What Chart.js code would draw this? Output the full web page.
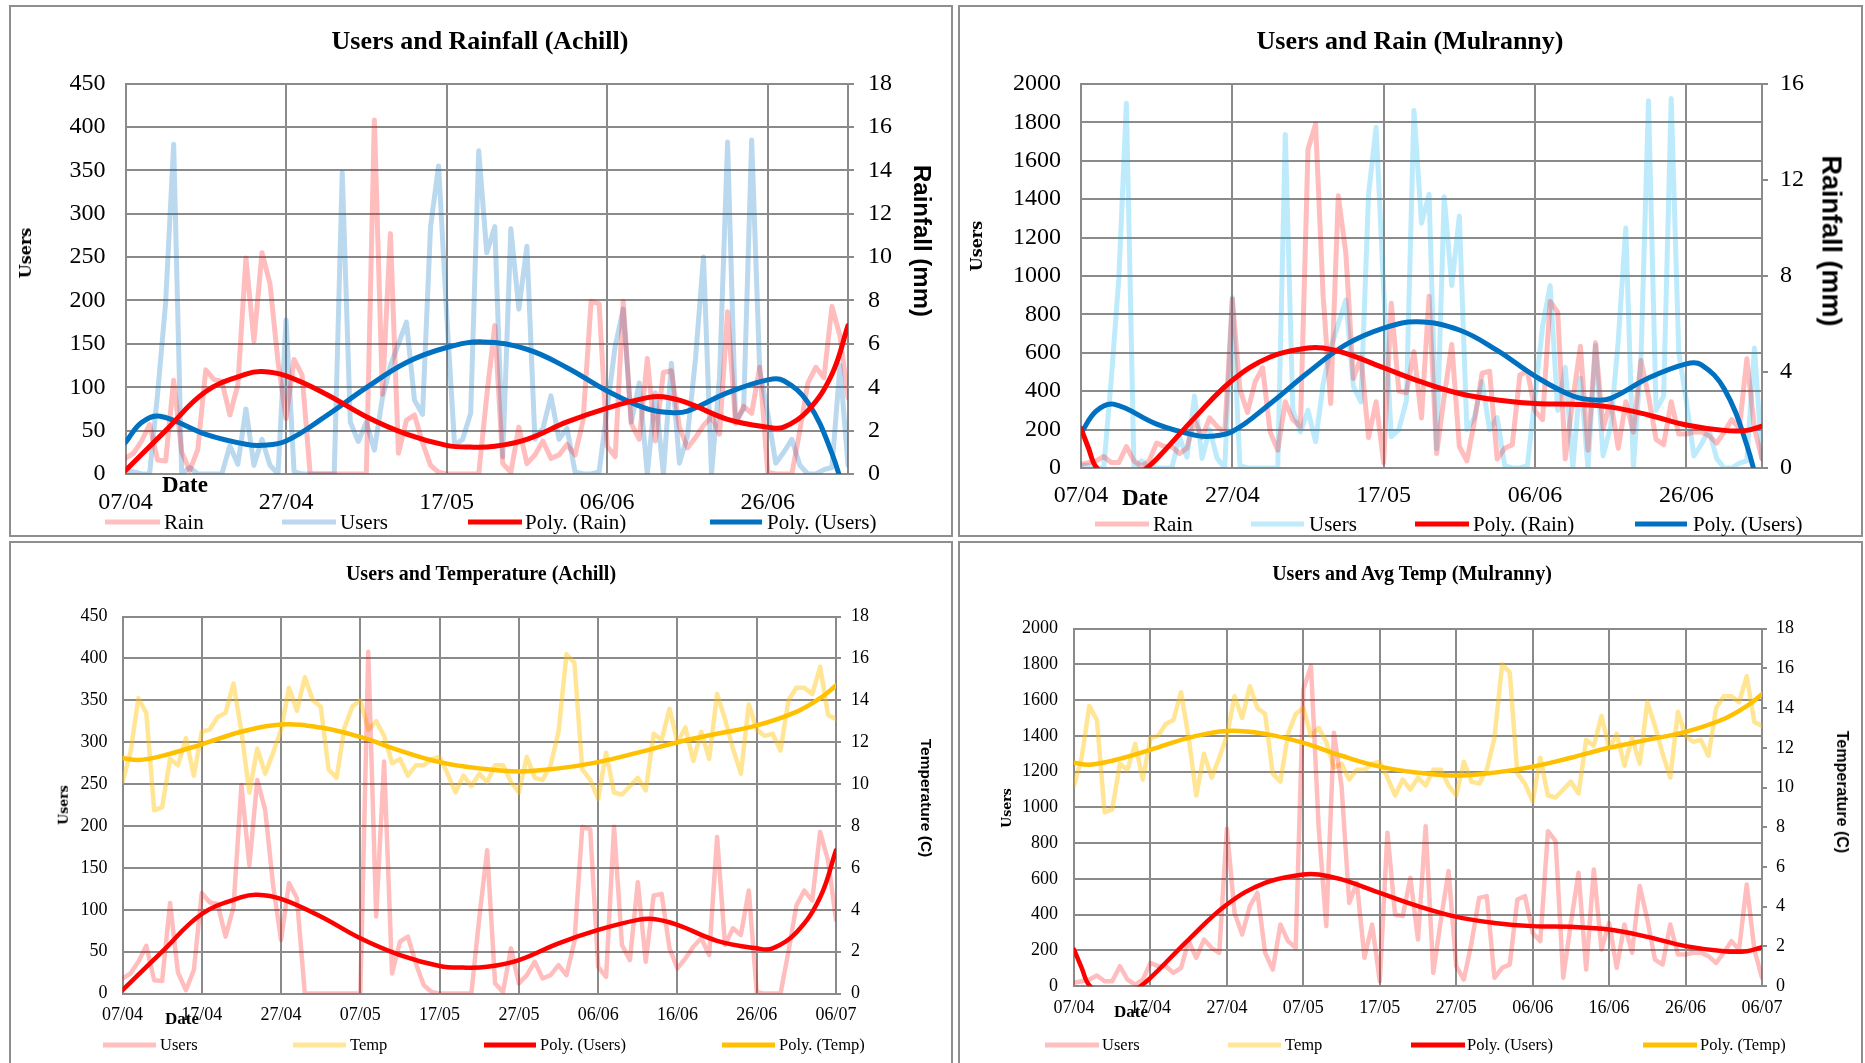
<!DOCTYPE html>
<html><head><meta charset="utf-8">
<script src="https://cdn.jsdelivr.net/npm/chart.js@4.4.1/dist/chart.umd.min.js"></script>
<style>
html,body{margin:0;padding:0;background:#fff;width:1865px;height:1063px;overflow:hidden;position:relative;font-family:"Liberation Serif",serif;}
.panel{position:absolute;box-sizing:border-box;border:2px solid #8e8e8e;background:#fff;}
canvas{position:absolute;}
.t{position:absolute;white-space:nowrap;color:#000;line-height:1;}
.ttl{font-weight:bold;transform:translate(-50%,-50%);}
.vl{font-family:"DejaVu Serif",serif;font-weight:bold;transform:translate(-50%,-50%) rotate(-90deg);}
.vr{font-family:"Liberation Sans",sans-serif;font-weight:bold;transform:translate(-50%,-50%) rotate(90deg);}
.date{font-weight:bold;transform:translate(-50%,-50%);}
.lg{position:absolute;height:5px;transform:translateY(-50%);}
.lt{position:absolute;transform:translateY(-50%);white-space:nowrap;line-height:1;}
</style></head><body>
<div class="panel" style="left:9px;top:5px;width:944px;height:532px"></div>
<div class="panel" style="left:958px;top:5px;width:905px;height:532px"></div>
<div class="panel" style="left:9px;top:541px;width:944px;height:540px"></div>
<div class="panel" style="left:958px;top:541px;width:905px;height:540px"></div>
<script>
// ---- tick labels ----
const topDateLabels = ['07/04','27/04','17/05','06/06','26/06'];
const bottomDateLabels = ['07/04','17/04','27/04','07/05','17/05','27/05','06/06','16/06','26/06','06/07'];

// ---- daily series (07/04 .. 06/07) ----
const achillUsers = [18,24,38,57,16,15,108,25,4,28,120,109,107,68,103,249,153,255,219,129,
  64,132,114,0,0,0,0,0,0,0,0,408,92,277,24,62,68,36,10,2,
  0,0,0,0,0,90,171,12,2,54,12,22,38,18,22,34,22,62,199,196,
  32,20,199,58,40,133,38,117,119,54,30,42,56,66,46,187,58,78,70,123,
  2,0,0,0,50,105,123,111,193,159,88];
const mulrannyUsers = [19,28,37,60,28,28,112,37,9,37,130,112,112,75,103,252,159,261,215,187,
  880,410,289,448,522,187,93,345,252,215,1660,1790,895,336,1418,1119,466,578,159,345,
  28,858,401,392,606,261,895,75,373,644,112,37,243,494,504,47,103,121,485,504,
  298,252,867,812,47,354,634,93,653,205,354,103,345,187,560,373,149,121,345,177,
  177,187,187,168,130,187,252,205,569,205,47];
const rainfall = [0.1,0.1,0,0,3.7,7.9,15.2,0,0.3,0,0,0,0,1.3,0.45,3.0,0.4,1.6,0.4,0,
  7.1,0.1,0,0,0,0,0,13.9,2.4,1.5,2.4,1.1,3.5,5.0,6.0,7.0,3.4,2.75,11.4,14.2,
  7.4,1.3,1.6,2.8,14.9,10.2,11.4,0.8,11.3,7.6,10.5,1.6,2.1,3.6,1.6,2.1,0.1,0,0,0.1,
  3.0,5.9,7.6,2.4,4.2,0,3.75,0,5.1,0.5,1.75,5.3,10.0,0,4.5,15.3,2.4,3.0,15.4,4.8,
  2.8,0.5,1.0,1.6,0.4,0,0,0.2,0.3,5.0,0.4];
const temperature = [10.1,11.5,14.1,13.4,8.75,8.9,11.2,10.9,12.2,10.4,12.5,12.6,13.2,13.4,14.8,12.5,9.6,11.7,10.5,11.5,
  12.6,14.6,13.5,15.1,14.0,13.7,10.7,10.3,12.7,13.7,14.0,12.6,13.0,12.3,11.0,11.2,10.4,10.9,10.9,11.2,
  11.3,10.5,9.6,10.4,9.9,10.5,10.1,10.9,10.9,10.1,9.6,11.3,10.3,10.2,10.9,12.5,16.2,15.8,10.7,10.2,
  9.3,11.5,9.6,9.5,9.9,10.3,9.7,12.4,12.1,13.6,12.0,12.7,11.1,12.5,11.2,14.3,13.1,11.7,10.5,13.8,
  12.6,12.3,12.4,11.6,14.0,14.6,14.6,14.3,15.6,13.3,13.1];

// ---- polynomial trend lines ----
const achillTrendDays = [0,5,10,15,17,20,25,30,35,40,43,46,50,55,60,65,67,70,75,80,82,85,88,90];
const achillTrend     = [4,50,95,115,118,113,92,66,46,33,31,32,40,60,76,88,89,82,63,54,54,73,115,171];
const mulrannyTrendDays = [0,1,2,5,8,10,15,20,25,30,32,35,40,45,50,55,60,65,70,75,80,85,88,90];
const mulrannyTrend     = [205,103,5,-100,-22,47,261,457,578,625,625,597,522,448,388,354,336,332,317,276,224,196,196,218];
const rainTrendDays = [0,2,4.3,10,15,17,20,25,30,35,40,44.5,50,55,60,65,68,70,75,80,82,85,88,90];
const rainTrend     = [1.45,2.37,2.66,1.83,1.37,1.32,1.52,2.68,3.98,5.14,5.83,6.09,5.75,4.9,3.83,3.0,2.83,2.9,3.75,4.34,4.3,3.3,0.95,-1.5];
const tempTrendDays = [0,2,5,10,15,20,25,30,35,40,45,50,55,60,65,70,75,80,85,88,90];
const tempTrend     = [11.25,11.15,11.35,11.9,12.5,12.85,12.7,12.25,11.6,11.05,10.75,10.6,10.75,11.05,11.5,12.0,12.4,12.8,13.45,14.1,14.7];

const GRID = '#8a8a8a';
const FONT = 'Liberation Serif';
const PINK = 'rgba(255,0,0,0.26)', LBLUE_A = 'rgba(0,112,192,0.27)', LBLUE_M = 'rgba(0,176,240,0.26)', YEL = 'rgba(255,192,0,0.42)';
const RED = '#ff0000', BLUE = '#0070c0', GOLD = '#ffc000';

function daily(vals){ return vals.map((v,i)=>({x:i,y:v})); }
function sampled(days, vals){ return vals.map((v,i)=>({x:days[i],y:v})); }
function raw(label, vals, color, axis, w){ return {label, data:daily(vals), borderColor:color, borderWidth:w, yAxisID:axis, tension:0, pointRadius:0, order:2}; }
function poly(label, days, vals, color, axis, w){ return {label, data:sampled(days,vals), borderColor:color, borderWidth:w, yAxisID:axis, tension:0.4, pointRadius:0, order:1}; }

function makeChart(o){
  const c = document.createElement('canvas');
  c.width=o.cw; c.height=o.ch;
  Object.assign(c.style,{left:o.cx+'px',top:o.cy+'px',width:o.cw+'px',height:o.ch+'px'});
  document.body.appendChild(c);
  const A=o.area, yW=70, y2W=70, xH=40;
  const pad={left:A.l-o.cx-yW, top:A.t-o.cy, right:(o.cx+o.cw)-A.r-y2W, bottom:(o.cy+o.ch)-A.b-xH};
  const f={family:FONT,size:o.fs};
  const plain = v => String(v);
  new Chart(c,{type:'line',data:{datasets:o.datasets},options:{
    responsive:false,animation:false,devicePixelRatio:1,
    layout:{padding:pad},
    plugins:{legend:{display:false},tooltip:{enabled:false}},
    elements:{point:{radius:0},line:{borderCapStyle:'round',borderJoinStyle:'round'}},
    scales:{
      x:{type:'linear',min:0,max:90,afterFit:s=>{s.height=xH;},
         grid:{color:GRID,lineWidth:2,drawTicks:false},border:{color:GRID,width:2},
         ticks:{stepSize:o.xStep,includeBounds:false,autoSkip:false,maxRotation:0,padding:o.xPad,font:f,color:'#000',
           callback:(v)=>{const k=Math.round(v/o.xStep);return (Math.abs(v-k*o.xStep)<1e-6&&o.xLabels[k]!==undefined)?o.xLabels[k]:'';}}},
      y:{position:'left',min:0,max:o.yMax,afterFit:s=>{s.width=yW;},
         grid:{color:GRID,lineWidth:2,drawTicks:false},border:{color:GRID,width:2},
         ticks:{stepSize:o.yStep,padding:o.yPad,font:f,color:'#000',callback:plain}},
      y2:{position:'right',min:0,max:o.y2Max,afterFit:s=>{s.width=y2W;},
         grid:{drawOnChartArea:false,color:GRID,lineWidth:2,drawTicks:true,tickLength:o.tl},border:{color:GRID,width:2},
         ticks:{stepSize:o.y2Step,padding:o.y2Pad,font:f,color:'#000',callback:plain}}
    }}});
}

// Top-left: Users and Rainfall (Achill)
makeChart({cx:11,cy:7,cw:940,ch:528,area:{l:125.5,t:83.5,r:848,b:474},fs:24,
  xStep:20,xLabels:topDateLabels,xPad:14,yMax:450,yStep:50,yPad:20,y2Max:18,y2Step:2,y2Pad:14,tl:6,
  datasets:[raw('Rain',achillUsers,PINK,'y',5),raw('Users',rainfall,LBLUE_A,'y2',5),
    poly('Poly. (Rain)',achillTrendDays,achillTrend,RED,'y',5),poly('Poly. (Users)',rainTrendDays,rainTrend,BLUE,'y2',5)]});
// Top-right: Users and Rain (Mulranny)
makeChart({cx:960,cy:7,cw:900,ch:528,area:{l:1081,t:84,r:1762,b:468},fs:24,
  xStep:20,xLabels:topDateLabels,xPad:13,yMax:2000,yStep:200,yPad:20,y2Max:16,y2Step:4,y2Pad:12,tl:6,
  datasets:[raw('Rain',mulrannyUsers,PINK,'y',5),raw('Users',rainfall,LBLUE_M,'y2',5),
    poly('Poly. (Rain)',mulrannyTrendDays,mulrannyTrend,RED,'y',5),poly('Poly. (Users)',rainTrendDays,rainTrend,BLUE,'y2',5)]});
// Bottom-left: Users and Temperature (Achill)
makeChart({cx:11,cy:543,cw:940,ch:520,area:{l:122.5,t:616.5,r:836,b:993.6},fs:18,
  xStep:10,xLabels:bottomDateLabels,xPad:10.5,yMax:450,yStep:50,yPad:15,y2Max:18,y2Step:2,y2Pad:10,tl:5,
  datasets:[raw('Users',achillUsers,PINK,'y',4.5),raw('Temp',temperature,YEL,'y2',4.5),
    poly('Poly. (Users)',achillTrendDays,achillTrend,RED,'y',4.5),poly('Poly. (Temp)',tempTrendDays,tempTrend,GOLD,'y2',4.5)]});
// Bottom-right: Users and Avg Temp (Mulranny)
makeChart({cx:960,cy:543,cw:900,ch:520,area:{l:1074,t:628.6,r:1762,b:986.2},fs:18,
  xStep:10,xLabels:bottomDateLabels,xPad:11.5,yMax:2000,yStep:200,yPad:16,y2Max:18,y2Step:2,y2Pad:9,tl:5,
  datasets:[raw('Users',mulrannyUsers,PINK,'y',4.5),raw('Temp',temperature,YEL,'y2',4.5),
    poly('Poly. (Users)',mulrannyTrendDays,mulrannyTrend,RED,'y',4.5),poly('Poly. (Temp)',tempTrendDays,tempTrend,GOLD,'y2',4.5)]});

// ---- text overlays ----
function txt(cls, s, x, y, size, extra){
  const d=document.createElement('div'); d.className='t '+cls; d.textContent=s;
  d.style.left=x+'px'; d.style.top=y+'px'; d.style.fontSize=size+'px';
  if(extra) Object.assign(d.style, extra);
  document.body.appendChild(d);
}
txt('ttl','Users and Rainfall (Achill)',480,41,26);
txt('ttl','Users and Rain (Mulranny)',1410,41,26);
txt('ttl','Users and Temperature (Achill)',481,573,20);
txt('ttl','Users and Avg Temp (Mulranny)',1412,573,20);
txt('vl','Users',26,253,16);
txt('vl','Users',977,246,16);
txt('vl','Users',64,805,12.5);
txt('vl','Users',1007,808,12.5);
txt('vr','Rainfall (mm)',922,241,24);
txt('vr','Rainfall (mm)',1831,241,27);
txt('vr','Temperature (C)',926,798,15.5);
txt('vr','Temperature (C)',1842,792,16);
txt('date','Date',185,484,23);
txt('date','Date',1145,497,23);
txt('date','Date',182,1018,17);
txt('date','Date',1131,1011,17);

function legend(items, y, size){
  items.forEach(it=>{
    const l=document.createElement('div'); l.className='lg';
    Object.assign(l.style,{left:it[1]+'px',top:y+'px',width:(it[2]-it[1])+'px',background:it[4]});
    document.body.appendChild(l);
    const t=document.createElement('div'); t.className='lt'; t.textContent=it[0];
    Object.assign(t.style,{left:it[3]+'px',top:y+'px',fontSize:size+'px'});
    document.body.appendChild(t);
  });
}
legend([['Rain',105,160,164,'#ffbfbf'],['Users',282,336,340,'#bdd7ee'],['Poly. (Rain)',468,522,525,RED],['Poly. (Users)',710,762,767,BLUE]],522,21);
legend([['Rain',1095,1149,1153,'#ffbfbf'],['Users',1251,1304,1309,'#c0ebfb'],['Poly. (Rain)',1415,1469,1473,RED],['Poly. (Users)',1635,1687,1693,BLUE]],524,21);
legend([['Users',103,156,160,'#ffbfbf'],['Temp',293,346,350,'#ffe699'],['Poly. (Users)',484,536,540,RED],['Poly. (Temp)',722,775,779,GOLD]],1045,16.5);
legend([['Users',1045,1099,1102,'#ffbfbf'],['Temp',1228,1281,1285,'#ffe699'],['Poly. (Users)',1411,1465,1467,RED],['Poly. (Temp)',1643,1697,1700,GOLD]],1045,16.5);
</script>
</body></html>
